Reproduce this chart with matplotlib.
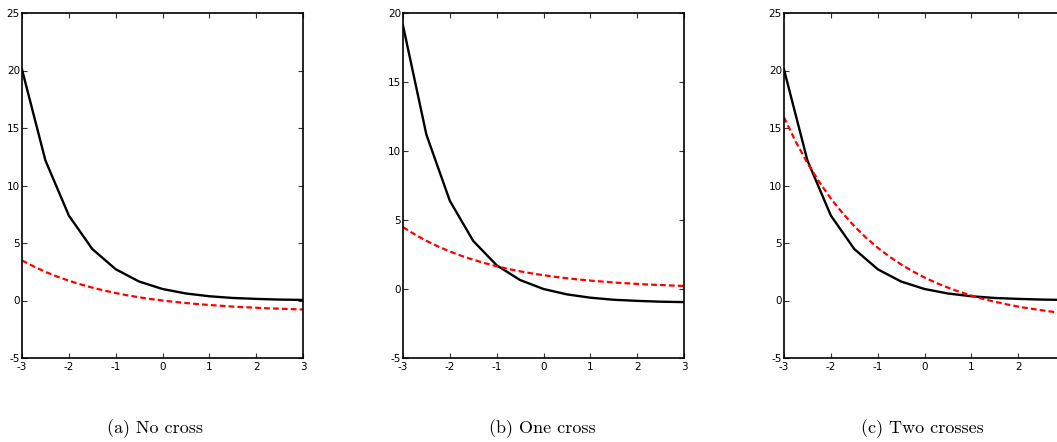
import matplotlib
matplotlib.use("Agg")
import matplotlib.pyplot as plt
from matplotlib.ticker import FixedLocator

# ---- data ----
x_coarse = [-3, -2.5, -2, -1.5, -1, -0.5, 0, 0.5, 1, 1.5, 2, 2.5, 3]
x_fine = [-3, -2.75, -2.5, -2.25, -2, -1.75, -1.5, -1.25, -1, -0.75, -0.5, -0.25, 0,
          0.25, 0.5, 0.75, 1, 1.25, 1.5, 1.75, 2, 2.25, 2.5, 2.75, 3]

black_a = [20.09, 12.18, 7.39, 4.48, 2.72, 1.65, 1.00, 0.61, 0.37, 0.22, 0.14, 0.08, 0.05]
red_a = [3.48, 2.96, 2.49, 2.08, 1.72, 1.40, 1.12, 0.87, 0.65, 0.45, 0.28, 0.13, 0.00,
         -0.12, -0.22, -0.31, -0.39, -0.46, -0.53, -0.58, -0.63, -0.68, -0.71, -0.75, -0.78]

black_b = [19.09, 11.18, 6.39, 3.48, 1.72, 0.65, 0.00, -0.39, -0.63, -0.78, -0.86, -0.92, -0.95]
red_b = [4.48, 3.96, 3.49, 3.08, 2.72, 2.40, 2.12, 1.87, 1.65, 1.45, 1.28, 1.13, 1.00,
         0.88, 0.78, 0.69, 0.61, 0.54, 0.47, 0.42, 0.37, 0.32, 0.29, 0.25, 0.22]

black_c = [20.09, 12.18, 7.39, 4.48, 2.72, 1.65, 1.00, 0.61, 0.37, 0.22, 0.14, 0.08, 0.05]
red_c = [15.93, 13.82, 11.96, 10.32, 8.87, 7.60, 6.47, 5.47, 4.59, 3.82, 3.14, 2.53, 2.00,
         1.53, 1.12, 0.75, 0.43, 0.14, -0.11, -0.33, -0.53, -0.70, -0.85, -0.99, -1.11]

x_ticks = [-3, -2, -1, 0, 1, 2, 3]
x_ticklabels = ['-3', '-2', '-1', '0', '1', '2', '3']
x_ticklabels_c = ['-3', '-2', '-1', '0', '1', '2', '']   # "3" falls outside the cropped figure
y_ticks_a = [-5, 0, 5, 10, 15, 20, 25]
y_ticks_b = [-5, 0, 5, 10, 15, 20]
y_ticks_c = [-5, 0, 5, 10, 15, 20, 25]
captions = ['(a) No cross', '(b) One cross', '(c) Two crosses']

W, H = 1057, 442
fig = plt.figure(figsize=(W / 100, H / 100), dpi=100)

lefts_px = [22, 403, 784]
ax_w_px = 281
top_px, bottom_px = 13, 358
cap_centers_px = [155, 542, 922]

panels = [
    (black_a, red_a, y_ticks_a, x_ticklabels),
    (black_b, red_b, y_ticks_b, x_ticklabels),
    (black_c, red_c, y_ticks_c, x_ticklabels_c),
]

tick_font = ['Liberation Sans Narrow', 'DejaVu Sans']

for i, (blk, red, yt, xtl) in enumerate(panels):
    ax = fig.add_axes([lefts_px[i] / W, 1 - bottom_px / H, ax_w_px / W,
                       (bottom_px - top_px) / H])
    ax.plot(x_coarse, blk, color='black', lw=1.7, solid_joinstyle='miter')
    ax.plot(x_fine, red, color='#ff0000', lw=1.6, dashes=(2.6, 1.4))
    ax.set_xlim(-3, 3)
    ax.set_ylim(yt[0], yt[-1])
    ax.xaxis.set_major_locator(FixedLocator(x_ticks))
    ax.yaxis.set_major_locator(FixedLocator(yt))
    ax.set_xticklabels(xtl, family=tick_font, fontsize=7.5)
    ax.set_yticklabels([str(v) for v in yt], family=tick_font, fontsize=7.5)
    ax.tick_params(direction='in', length=3.5, width=0.8, top=True, right=True,
                   color='#333333')
    ax.tick_params(axis='x', pad=3)
    ax.tick_params(axis='y', pad=1.5)
    for sp in ax.spines.values():
        sp.set_linewidth(1.2)
    fig.text(cap_centers_px[i] / W, 1 - 429 / H, captions[i], ha='center',
             va='center', fontsize=13, family=['cmr10', 'DejaVu Serif'])

fig.savefig('out.png', dpi=100)
